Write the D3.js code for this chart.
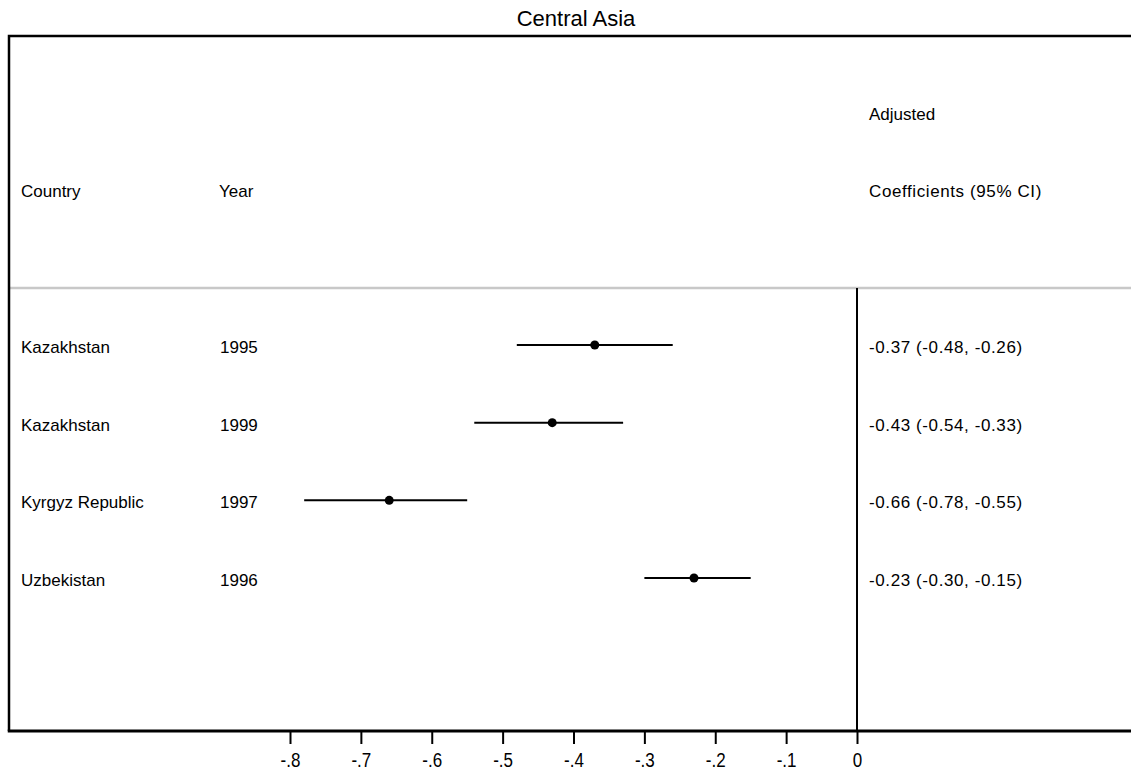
<!DOCTYPE html>
<html>
<head>
<meta charset="utf-8">
<script src="https://cdn.jsdelivr.net/npm/d3@7"></script>
<style>
  body { margin: 0; background: #fff; }
  text { font-family: "Liberation Sans", Arial, sans-serif; fill: #000; }
</style>
</head>
<body>
<svg id="chart"></svg>
<script>
const title = "Central Asia";
const countries = ["Kazakhstan", "Kazakhstan", "Kyrgyz Republic", "Uzbekistan"];
const years = ["1995", "1999", "1997", "1996"];
const coefs = [-0.37, -0.43, -0.66, -0.23];
const lower = [-0.48, -0.54, -0.78, -0.30];
const upper = [-0.26, -0.33, -0.55, -0.15];
const tickValues = [-0.8, -0.7, -0.6, -0.5, -0.4, -0.3, -0.2, -0.1, 0];

const width = 1131, height = 772;
const frame = { left: 9, top: 36, bottom: 731, split: 288 };

const svg = d3.select("#chart").attr("width", width).attr("height", height);

// plain hyphen minus, like the original output
const locale = d3.formatLocale({ decimal: ".", thousands: ",", grouping: [3], currency: ["", ""], minus: "-" });
const f1 = locale.format(".1f");
const f2 = locale.format(".2f");

// scales
const x = d3.scaleLinear().domain([-0.8, 0]).range([290, 857]);
const y = d3.scalePoint().domain(d3.range(countries.length)).range([345, 578]);

// title
svg.append("text")
  .attr("x", 576).attr("y", 26)
  .attr("text-anchor", "middle")
  .attr("font-size", 22)
  .text(title);

// header/body divider (grey)
svg.append("line")
  .attr("x1", frame.left).attr("x2", width)
  .attr("y1", frame.split).attr("y2", frame.split)
  .attr("stroke", "#c8c8c8").attr("stroke-width", 2.5);

// outer frame: top and left
svg.append("path")
  .attr("d", `M${width},${frame.top}H${frame.left}V${frame.bottom}`)
  .attr("fill", "none").attr("stroke", "#000").attr("stroke-width", 2.5);

// zero line
svg.append("line")
  .attr("x1", x(0)).attr("x2", x(0))
  .attr("y1", frame.split).attr("y2", frame.bottom)
  .attr("stroke", "#000").attr("stroke-width", 2);

// headers
const headers = svg.append("g").attr("font-size", 17);
headers.append("text").attr("x", 21).attr("y", 197).text("Country");
headers.append("text").attr("x", 219).attr("y", 197).text("Year");
headers.append("text").attr("x", 869).attr("y", 120).text("Adjusted");
headers.append("text").attr("x", 869).attr("y", 197)
  .attr("letter-spacing", 0.6).text("Coefficients (95% CI)");

// x axis
const fmt = v => v === 0 ? "0" : f1(v).replace("0.", ".");
const xAxis = d3.axisBottom(x).tickValues(tickValues).tickFormat(fmt).tickSize(13);
const axisG = svg.append("g").attr("transform", `translate(0,${frame.bottom})`).call(xAxis);
axisG.select(".domain").remove();
axisG.selectAll(".tick line").attr("stroke", "#000").attr("stroke-width", 2);
axisG.selectAll(".tick text")
  .attr("font-size", 17)
  .attr("font-family", "Liberation Sans, Arial, sans-serif")
  .attr("fill", "#000")
  .attr("dy", 0).attr("y", 0)
  .attr("transform", "translate(0,36) scale(1,1.22)");

// bottom frame / axis line
svg.append("line")
  .attr("x1", frame.left - 1.25).attr("x2", width)
  .attr("y1", frame.bottom).attr("y2", frame.bottom)
  .attr("stroke", "#000").attr("stroke-width", 3);

// rows
const rows = svg.append("g").selectAll("g")
  .data(d3.range(countries.length))
  .join("g");

rows.append("line")
  .attr("x1", i => x(lower[i])).attr("x2", i => x(upper[i]))
  .attr("y1", i => y(i)).attr("y2", i => y(i))
  .attr("stroke", "#000").attr("stroke-width", 2);

rows.append("circle")
  .attr("cx", i => x(coefs[i])).attr("cy", i => y(i))
  .attr("r", 4.5).attr("fill", "#000");

rows.append("text").attr("font-size", 17)
  .attr("x", 21).attr("y", i => y(i) + 8).text(i => countries[i]);
rows.append("text").attr("font-size", 17)
  .attr("x", 220).attr("y", i => y(i) + 8).text(i => years[i]);
rows.append("text").attr("font-size", 17)
  .attr("letter-spacing", 0.6)
  .attr("x", 869).attr("y", i => y(i) + 8)
  .text(i => `${f2(coefs[i])} (${f2(lower[i])}, ${f2(upper[i])})`);
</script>
</body>
</html>
